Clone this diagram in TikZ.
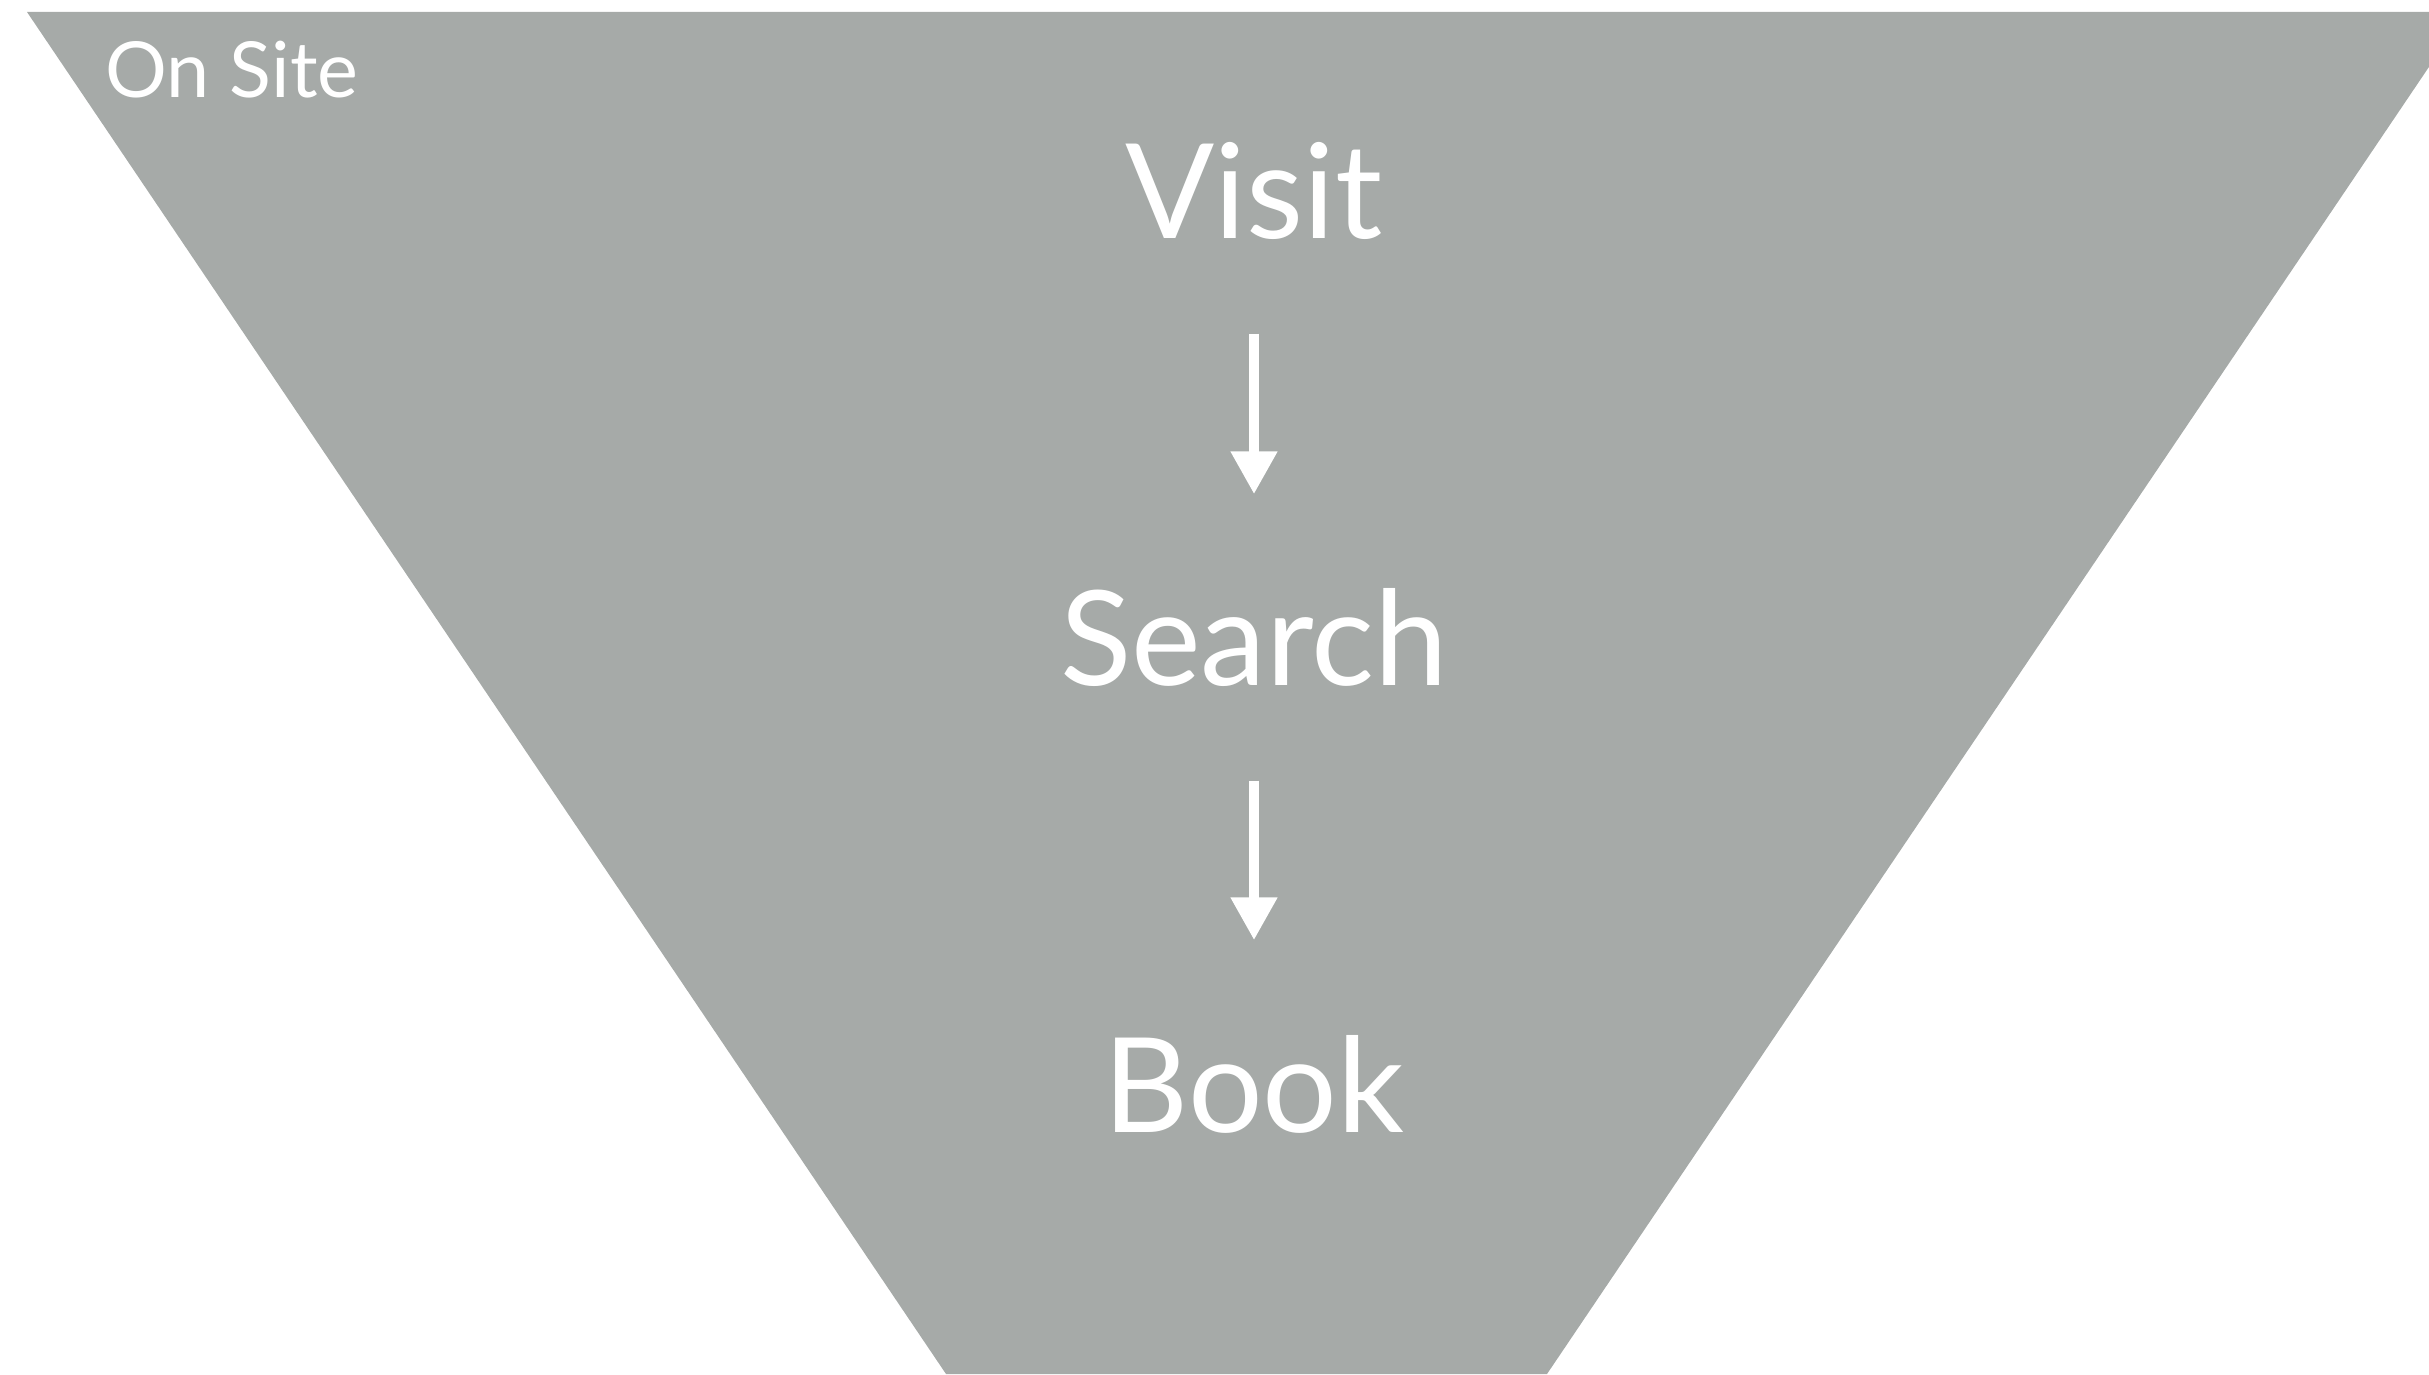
\documentclass[tikz,border=0pt]{standalone}
\usepackage{fontspec}
\setmainfont{Lato}
\usetikzlibrary{arrows.meta}
\definecolor{funnel}{RGB}{166,170,168}
\tikzset{stage/.style={text=white,inner sep=0pt,text height=.95cm,text depth=0pt,font=\fontsize{37.5}{40}\selectfont},
	step arrow/.style={white,line width=3.1pt,-{Triangle[width=12.5pt,length=12.2pt]},shorten <=.94cm,shorten >=.96cm}}

\begin{document}
\begin{tikzpicture}
		\useasboundingbox (0,0) rectangle (24.29,13.74);
		\clip (0,0) rectangle (24.29,13.74);
		\fill[funnel] (.27,13.62)--(24.66,13.62)--(15.47,0)--(9.46,0)--cycle;
		
		\node[anchor=base west,text=white,inner sep=0pt,font=\fontsize{22}{26}\selectfont] (site) at (1.05,12.76) {On Site};
		
		\node[stage,anchor=base] (visit)  at (12.54,11.35) {Visit};
		\node[stage,anchor=base] (search) at (12.54,6.88)  {Search};
		\node[stage,anchor=base] (book)   at (12.54,2.42)  {Book};
		
		\draw[step arrow] (visit) -- (search);
		\draw[step arrow] (search) -- (book);
	\end{tikzpicture}
\end{document}
